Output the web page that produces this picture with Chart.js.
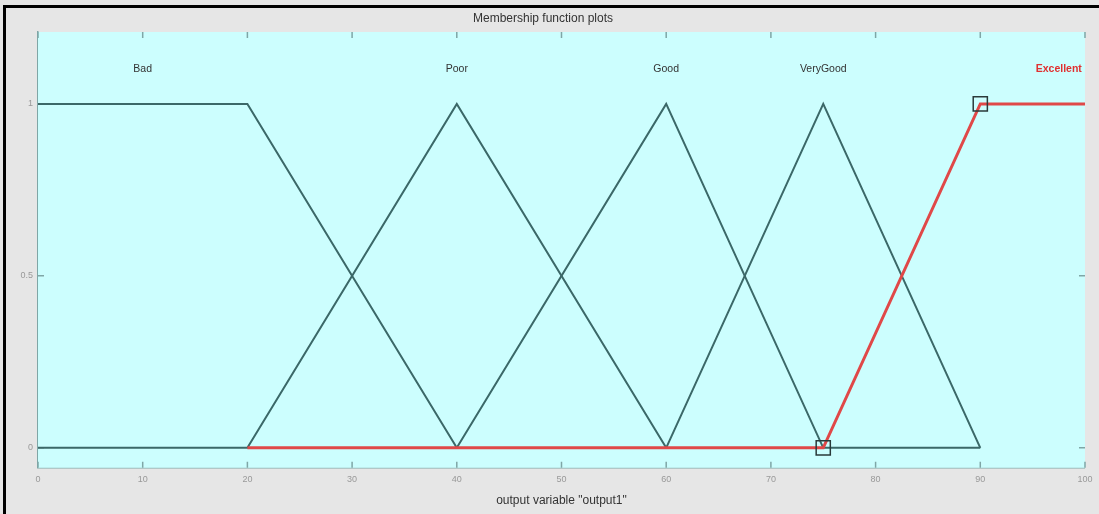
<!DOCTYPE html>
<html>
<head>
<meta charset="utf-8">
<script src="https://cdn.jsdelivr.net/npm/chart.js@4"></script>
<style>
  html, body { margin: 0; padding: 0; background: #e6e6e6; }
  #wrap { position: relative; width: 1099px; height: 514px; }
  #frame { position: absolute; left: 3px; top: 5px; width: 1200px; height: 600px;
           border-left: 3px solid #000; border-top: 3px solid #000; pointer-events: none; }
</style>
</head>
<body>
<div id="wrap">
  <canvas id="mfChart" width="1099" height="514"></canvas>
  <div id="frame"></div>
</div>
<script>
// membership functions (x, degree)
const badX = [0, 20, 40];
const badY = [1, 1, 0];
const poorX = [0, 20, 40, 60];
const poorY = [0, 0, 1, 0];
const goodX = [40, 60, 75, 90];
const goodY = [0, 1, 0, 0];
const veryGoodX = [60, 75, 90];
const veryGoodY = [0, 1, 0];
const excellentX = [20, 75, 90, 100];
const excellentY = [0, 0, 1, 1];
// selected-MF corner markers
const markerX = [75, 90];
const markerY = [0, 1];

const mfNames = ['Bad', 'Poor', 'Good', 'VeryGood', 'Excellent'];
const mfLabelX = [10, 40, 60, 75, 97.5];
const mfLabelY = [1.1, 1.1, 1.1, 1.1, 1.1];

const xTicks = [0, 10, 20, 30, 40, 50, 60, 70, 80, 90, 100];
const yTicks = [0, 0.5, 1];

const pts = (xs, ys) => xs.map((x, i) => ({ x: x, y: ys[i] }));

const FONT = '"Liberation Sans", Arial, sans-serif';
const lineCol = '#3b6868';
const redCol = '#e04848';

const decor = {
  id: 'decor',
  beforeDatasetsDraw(chart) {
    const { ctx, chartArea: a, scales } = chart;
    ctx.save();
    ctx.fillStyle = '#ccfefe';
    ctx.fillRect(a.left, a.top, a.right - a.left, a.bottom - a.top);
    ctx.strokeStyle = '#7fa6a6';
    ctx.lineWidth = 1.5;
    ctx.beginPath();
    xTicks.forEach(v => {
      const px = scales.x.getPixelForValue(v);
      ctx.moveTo(px, a.bottom); ctx.lineTo(px, a.bottom - 6);
      ctx.moveTo(px, a.top); ctx.lineTo(px, a.top + 6);
    });
    yTicks.forEach(v => {
      const py = scales.y.getPixelForValue(v);
      ctx.moveTo(a.left, py); ctx.lineTo(a.left + 6, py);
      ctx.moveTo(a.right, py); ctx.lineTo(a.right - 6, py);
    });
    ctx.stroke();
    ctx.restore();
  },
  afterDatasetsDraw(chart) {
    const { ctx, scales } = chart;
    ctx.save();
    ctx.textAlign = 'center';
    ctx.textBaseline = 'middle';
    mfNames.forEach((n, i) => {
      const last = i === mfNames.length - 1;
      ctx.font = (last ? 'bold ' : '') + '10.5px ' + FONT;
      ctx.fillStyle = last ? '#e03030' : '#333';
      ctx.fillText(n, scales.x.getPixelForValue(mfLabelX[i]), scales.y.getPixelForValue(mfLabelY[i]));
    });
    ctx.restore();
  }
};

const ctx = document.getElementById('mfChart').getContext('2d');
new Chart(ctx, {
  type: 'scatter',
  data: {
    datasets: [
      { label: 'marker', data: pts(markerX, markerY), showLine: false,
        pointStyle: 'rect', pointRadius: 10, pointBorderColor: '#2a3a3a', pointBorderWidth: 1.5,
        pointBackgroundColor: 'rgba(0,0,0,0)' },
      { label: 'Excellent', data: pts(excellentX, excellentY), showLine: true,
        borderColor: redCol, borderWidth: 3, pointRadius: 0 },
      { label: 'Bad', data: pts(badX, badY), showLine: true,
        borderColor: lineCol, borderWidth: 2, pointRadius: 0 },
      { label: 'Poor', data: pts(poorX, poorY), showLine: true,
        borderColor: lineCol, borderWidth: 2, pointRadius: 0 },
      { label: 'Good', data: pts(goodX, goodY), showLine: true,
        borderColor: lineCol, borderWidth: 2, pointRadius: 0 },
      { label: 'VeryGood', data: pts(veryGoodX, veryGoodY), showLine: true,
        borderColor: lineCol, borderWidth: 2, pointRadius: 0 }
    ]
  },
  options: {
    responsive: false,
    animation: false,
    layout: { padding: { left: 0, right: 13, top: 0, bottom: 6 } },
    plugins: {
      legend: { display: false },
      tooltip: { enabled: false },
      title: {
        display: true,
        text: 'Membership function plots',
        color: '#333',
        font: { family: FONT, size: 12, weight: 'normal' },
        padding: { top: 11, bottom: 6.6 }
      }
    },
    scales: {
      x: {
        min: 0, max: 100,
        afterBuildTicks: s => { s.ticks = xTicks.map(v => ({ value: v })); },
        grid: { display: false, drawTicks: false },
        border: { color: '#7fa6a6', width: 1.5 },
        ticks: { color: '#999', padding: 6.5, maxRotation: 0,
                 font: { family: FONT, size: 9 } },
        title: { display: true, text: 'output variable "output1"', color: '#333',
                 font: { family: FONT, size: 12 },
                 padding: { top: 2, bottom: 0 } }
      },
      y: {
        min: -0.058, max: 1.209,
        afterBuildTicks: s => { s.ticks = yTicks.map(v => ({ value: v })); },
        afterFit: s => { s.width = 38; },
        grid: { display: false, drawTicks: false },
        border: { color: '#7fa6a6', width: 1.5 },
        ticks: { color: '#999', padding: 5, callback: v => String(v),
                 font: { family: FONT, size: 9 } }
      }
    }
  },
  plugins: [decor]
});
</script>
</body>
</html>
